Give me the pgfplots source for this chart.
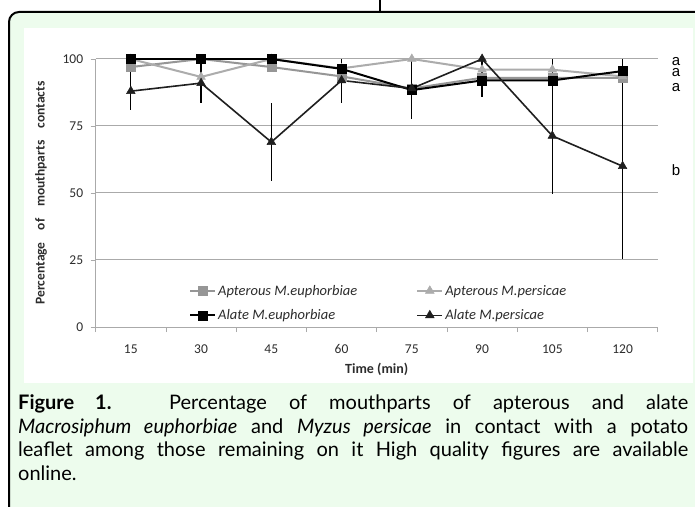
\documentclass[border=0pt]{standalone}
\usepackage{pgfplots}
\pgfplotsset{compat=1.18}
\usepackage{fontspec}
\setmainfont{Carlito}
\newfontfamily\capfont{Lato}
\newfontfamily\arialfont{Liberation Sans}
\definecolor{frameg}{RGB}{237,252,237}
\definecolor{gridc}{RGB}{170,170,170}
\definecolor{aptE}{RGB}{150,150,150}
\definecolor{aptP}{RGB}{172,172,172}
\definecolor{labc}{RGB}{45,45,45}
\begin{document}
\begin{tikzpicture}[x=1pt,y=1pt]
\useasboundingbox (0,0) rectangle (695,506);
\begin{scope}
\clip (0,0) rectangle (695,506);
\draw[line width=2pt, fill=frameg, rounded corners=10pt] (9,-20) rectangle (720,494);
\fill[white] (24,123) rectangle (693,478);
\draw[line width=1.5pt] (380,506) -- (380,494);
\end{scope}
\begin{axis}[
  at={(95.7pt,179pt)}, anchor=south west,
  scale only axis, width=562pt, height=268pt,
  xmin=-0.5, xmax=7.5, ymin=0, ymax=100,
  axis lines*=left,
  axis line style={gridc, line width=1pt, -},
  xtick={-0.5,0.5,...,7.5}, xticklabels={},
  extra x ticks={0,1,2,3,4,5,6,7},
  extra x tick labels={15,30,45,60,75,90,105,120},
  extra x tick style={major tick length=0pt, xticklabel style={yshift=-14pt}},
  ytick={0,25,50,75,100}, yticklabels={0,25,50,75,100},
  yticklabel style={xshift=-4pt},
  ymajorgrids, grid style={gridc, line width=1pt},
  tick align=outside, tick style={gridc, line width=0.8pt}, major tick length=5pt,
  ticklabel style={font=\fontsize{13.5}{15}\selectfont, text=labc},
  /pgf/number format/assume math mode=true,
  ylabel={Percentage\hspace{12pt}of\hspace{12pt}mouthparts\hspace{12pt}contacts},
  ylabel style={at={(axis description cs:-0.0973,0.5)}, anchor=center, font=\bfseries\fontsize{13.5}{15}\selectfont, text=labc},
  xlabel={Time (min)},
  xlabel style={at={(axis description cs:0.5,-0.1567)}, anchor=center, font=\bfseries\fontsize{14}{16}\selectfont, text=labc},
  legend columns=2,
  legend cell align=left,
  legend style={draw=none, fill=none, at={(axis description cs:0.166,0.165)}, anchor=north west, inner sep=0pt,
    font=\itshape\fontsize{14.5}{16}\selectfont, text=labc, row sep=9pt,
    /tikz/every even column/.append style={column sep=57pt}},
  legend image code/.code={\draw[mark repeat=2,mark phase=2,#1] plot coordinates {(0pt,0pt) (12.5pt,0pt) (25pt,0pt)};},
]
\addplot[aptE, line width=2pt, mark=square*, mark size=4.5pt, mark options={line width=0.5pt}] coordinates {
(0,97) (1,100) (2,97) (3,93.5) (4,89) (5,93) (6,93) (7,93)};
\addlegendentry{Apterous M.euphorbiae}
\addplot[aptP, line width=2pt, mark=triangle*, mark size=5pt, mark options={line width=0.5pt}] coordinates {
(0,100) (1,93.3) (2,100) (3,96.5) (4,100) (5,96) (6,96) (7,93.5)};
\addlegendentry{Apterous M.persicae}
\addplot[black, line width=2pt, mark=square*, mark size=4.5pt, mark options={line width=0.5pt}] coordinates {
(0,100) (1,100) (2,100) (3,96.3) (4,88.4) (5,92) (6,92) (7,95.5)};
\addlegendentry{Alate M.euphorbiae}
\addplot[black!88, line width=1.6pt, mark=triangle*, mark size=5pt, mark options={line width=0.5pt},
  error bars/.cd, y dir=both, y explicit, error mark=none, error bar style={black, line width=1.2pt}] coordinates {
(0,88) += (0,7) -= (0,7)
(1,91) += (0,7.5) -= (0,7.5)
(2,69) += (0,14.5) -= (0,14.5)
(3,92) += (0,8) -= (0,8.5)
(4,89) += (0,11) -= (0,11.5)
(5,100) += (0,0) -= (0,14)
(6,71.3) += (0,28.7) -= (0,21.7)
(7,60) += (0,40) -= (0,34.6)};
\addlegendentry{Alate M.persicae}
\end{axis}
\begin{scope}[font=\arialfont\fontsize{15}{15}\selectfont]
\node[anchor=base, inner sep=0pt] at (676,440.5) {a};
\node[anchor=base, inner sep=0pt] at (676,429.5) {a};
\node[anchor=base, inner sep=0pt] at (676,414) {a};
\node[anchor=base, inner sep=0pt] at (676,330) {b};
\end{scope}
\node[anchor=base west, inner sep=0pt, text width=670pt, align=justify, font=\capfont\fontsize{20}{23.8}\selectfont] at (18,96.7) {\textbf{Figure 1.} Percentage of mouthparts of apterous and alate\linebreak \textit{Macrosiphum euphorbiae} and \textit{Myzus persicae} in contact with a potato\linebreak leaflet among those remaining on it High quality figures are available\linebreak online.};
\end{tikzpicture}
\end{document}
